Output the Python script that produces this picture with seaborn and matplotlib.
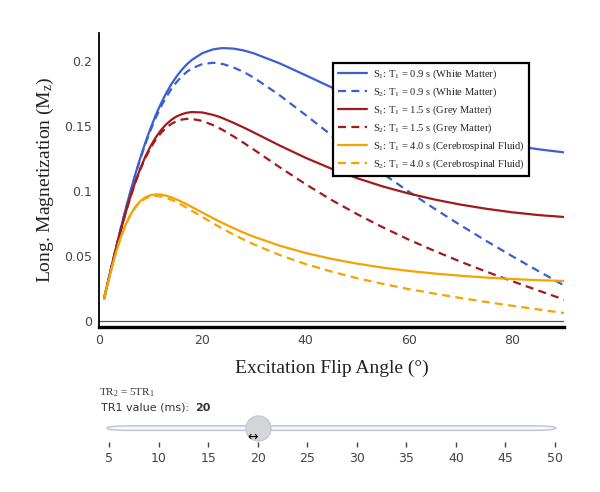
import numpy as np
import pandas as pd
import seaborn as sns
import matplotlib.pyplot as plt
from matplotlib.patches import FancyBboxPatch

sns.set_theme(style="white")
plt.rcParams['font.family'] = ['DejaVu Sans']
plt.rcParams['mathtext.fontset'] = 'custom'
plt.rcParams['mathtext.rm'] = 'Liberation Serif'
plt.rcParams['mathtext.it'] = 'Liberation Serif:italic'

# flip angles (deg) and the six signal curves
angles = [1, 2, 3, 4, 5, 6, 7, 8, 9, 10, 11, 12, 13, 14, 15, 16, 17, 18, 20, 22, 23, 24, 26, 28, 30,
          35, 40, 45, 50, 55, 60, 65, 70, 75, 80, 85, 90]

wm_s1 = [0.0174, 0.0347, 0.0515, 0.0679, 0.0836, 0.0985, 0.1125, 0.1256, 0.1376, 0.1485, 0.1585, 0.1673, 0.1752,
         0.1821, 0.1880, 0.1931, 0.1974, 0.2009, 0.2060, 0.2088, 0.2095, 0.2099, 0.2095, 0.2081, 0.2058,
         0.1981, 0.1890, 0.1797, 0.1708, 0.1627, 0.1555, 0.1492, 0.1438, 0.1391, 0.1352, 0.1321, 0.1297]
wm_s2 = [0.0174, 0.0346, 0.0515, 0.0678, 0.0834, 0.0981, 0.1120, 0.1247, 0.1364, 0.1470, 0.1565, 0.1649, 0.1722,
         0.1784, 0.1837, 0.1881, 0.1916, 0.1943, 0.1976, 0.1986, 0.1983, 0.1976, 0.1951, 0.1915, 0.1871,
         0.1735, 0.1584, 0.1429, 0.1278, 0.1132, 0.0994, 0.0862, 0.0736, 0.0615, 0.0498, 0.0385, 0.0274]
gm_s1 = [0.0174, 0.0345, 0.0510, 0.0666, 0.0812, 0.0946, 0.1067, 0.1173, 0.1267, 0.1346, 0.1413, 0.1468, 0.1513,
         0.1547, 0.1573, 0.1590, 0.1602, 0.1607, 0.1604, 0.1586, 0.1574, 0.1559, 0.1525, 0.1488, 0.1449,
         0.1349, 0.1255, 0.1171, 0.1098, 0.1034, 0.0980, 0.0934, 0.0895, 0.0863, 0.0836, 0.0815, 0.0800]
gm_s2 = [0.0174, 0.0345, 0.0510, 0.0665, 0.0810, 0.0943, 0.1061, 0.1166, 0.1256, 0.1333, 0.1396, 0.1447, 0.1487,
         0.1516, 0.1537, 0.1549, 0.1555, 0.1554, 0.1539, 0.1508, 0.1489, 0.1468, 0.1421, 0.1370, 0.1317,
         0.1182, 0.1052, 0.0931, 0.0821, 0.0719, 0.0625, 0.0538, 0.0456, 0.0379, 0.0306, 0.0235, 0.0165]
csf_s1 = [0.0173, 0.0338, 0.0488, 0.0619, 0.0727, 0.0812, 0.0877, 0.0922, 0.0952, 0.0968, 0.0974, 0.0972, 0.0964,
          0.0951, 0.0935, 0.0917, 0.0897, 0.0876, 0.0834, 0.0792, 0.0772, 0.0752, 0.0715, 0.0680, 0.0648,
          0.0579, 0.0523, 0.0478, 0.0441, 0.0410, 0.0385, 0.0365, 0.0348, 0.0334, 0.0323, 0.0314, 0.0308]
csf_s2 = [0.0173, 0.0338, 0.0488, 0.0618, 0.0725, 0.0809, 0.0872, 0.0916, 0.0944, 0.0958, 0.0962, 0.0958, 0.0947,
          0.0932, 0.0914, 0.0893, 0.0870, 0.0847, 0.0800, 0.0753, 0.0731, 0.0708, 0.0666, 0.0626, 0.0589,
          0.0507, 0.0438, 0.0380, 0.0329, 0.0285, 0.0245, 0.0210, 0.0177, 0.0146, 0.0117, 0.0089, 0.0062]

labels = [r'S$_1$: T$_1$ = 0.9 s (White Matter)', r'S$_2$: T$_1$ = 0.9 s (White Matter)',
          r'S$_1$: T$_1$ = 1.5 s (Grey Matter)', r'S$_2$: T$_1$ = 1.5 s (Grey Matter)',
          r'S$_1$: T$_1$ = 4.0 s (Cerebrospinal Fluid)', r'S$_2$: T$_1$ = 4.0 s (Cerebrospinal Fluid)']
series = [wm_s1, wm_s2, gm_s1, gm_s2, csf_s1, csf_s2]
colors = ['#3b5fcf', '#3b5fcf', '#a31a1a', '#a31a1a', '#f5a300', '#f5a300']

slider_ticks = [5, 10, 15, 20, 25, 30, 35, 40, 45, 50]
tr1_value = 20

df = pd.concat([pd.DataFrame({'angle': angles, 'Mz': s, 'curve': lab}) for s, lab in zip(series, labels)])

fig = plt.figure(figsize=(6, 4.92), dpi=100)
ax = fig.add_axes([99 / 600, 1 - 327 / 492, 465 / 600, 294 / 492])

sns.lineplot(data=df, x='angle', y='Mz', hue='curve', style='curve', hue_order=labels, style_order=labels,
             palette=dict(zip(labels, colors)),
             dashes={lab: ('' if i % 2 == 0 else (3.6, 2.4)) for i, lab in enumerate(labels)},
             linewidth=1.6, ax=ax)

ax.axhline(0, color='#555555', lw=0.9, zorder=0)
ax.set_xlim(0, 90)
ax.set_ylim(-0.0046, 0.2215)
ax.set_xticks([0, 20, 40, 60, 80])
ax.set_yticks([0, 0.05, 0.1, 0.15, 0.2])
ax.set_yticklabels(['0', '0.05', '0.1', '0.15', '0.2'])
ax.tick_params(length=0, labelsize=9, colors='#444444', pad=5)
for side in ['top', 'right']:
    ax.spines[side].set_visible(False)
ax.spines['left'].set_color('black')
ax.spines['left'].set_linewidth(1.3)
ax.spines['bottom'].set_color('black')
ax.spines['bottom'].set_linewidth(2.4)

ax.set_xlabel('Excitation Flip Angle (°)', family='Liberation Serif', fontsize=14, color='#222222')
ax.set_ylabel(r'Long. Magnetization (M$_\mathrm{z}$)', family='Liberation Serif', fontsize=14, color='#222222')
ax.xaxis.set_label_coords(0.5, -0.11)
ax.yaxis.set_label_coords(-0.092, 0.5)

leg = ax.legend(loc='upper left', bbox_to_anchor=(333 / 600, 1 - 63 / 492), bbox_transform=fig.transFigure,
                frameon=True, fancybox=False, edgecolor='black', framealpha=1,
                prop={'family': 'Liberation Serif', 'size': 7.6}, handlelength=2.8, labelspacing=0.42,
                borderpad=0.45, handletextpad=0.5, borderaxespad=0)
leg.get_frame().set_linewidth(1.6)

# slider widget under the chart
sl = fig.add_axes([100 / 600, 1 - 470 / 492, 465 / 600, 100 / 492])
sl.set_xlim(4.09, 51.01)
sl.set_ylim(470, 370)
sl.axis('off')
sl.text(4.0, 393, r'TR$_2$ = 5TR$_1$', family='Liberation Serif', fontsize=8, va='center', ha='left', color='#333333')
sl.text(4.2, 408, 'TR1 value (ms):', fontsize=8, va='center', ha='left', color='#333333')
sl.text(13.7, 408, str(tr1_value), fontsize=8, fontweight='bold', va='center', ha='left', color='#333333')
sl.add_patch(FancyBboxPatch((4.8, 425.8), 45.3, 4.6, boxstyle='round,pad=0,rounding_size=2.3',
                            fc='#f6f8fb', ec='#bec8d9', lw=1.1, mutation_aspect=1))
sl.scatter([tr1_value], [428], s=330, color='#d3d5d9', edgecolor='#c4c7cc', lw=0.8, zorder=3)
sl.text(tr1_value - 0.5, 437, '↔', fontsize=9, ha='center', va='center', color='black', zorder=4)
sl.vlines(slider_ticks, 442, 447, color='#444444', lw=1)
for t in slider_ticks:
    sl.text(t, 458, str(t), fontsize=9, ha='center', va='center', color='#444444')

fig.savefig('out.png', dpi=100, facecolor='white')
